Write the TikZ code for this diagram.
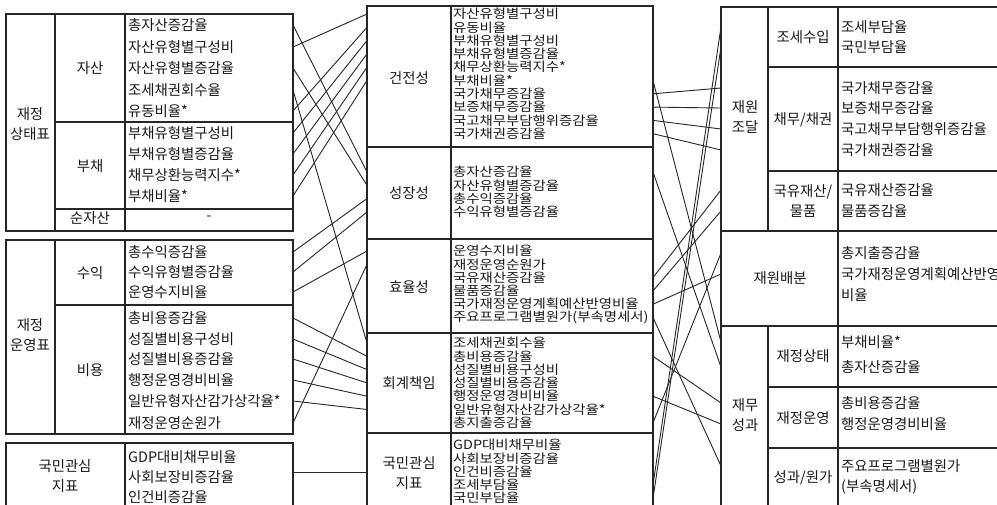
\documentclass[tikz,border=0pt]{standalone}
\usepackage{graphicx}
\usepackage{fontspec}
\newfontfamily\kr{Noto Sans CJK KR}
\newcommand{\sqz}[1]{\scalebox{1}[0.88]{#1}}
\begin{document}
\begin{tikzpicture}[x=1pt,y=-1pt,
  tbl/.style={draw=black!85, line width=1.1pt},
  txt/.style={font=\kr\fontsize{14.4}{14.4}\selectfont, anchor=west, inner sep=0pt, text=black!90},
  lbl/.style={font=\kr\fontsize{14.4}{20}\selectfont, inner sep=0pt, text=black!90, align=center},
  link/.style={draw=black!85, line width=0.9pt}]
\useasboundingbox (0,0) rectangle (997,504);
\clip (0,0) rectangle (997,504);
\fill[white] (0,0) rectangle (997,504);
% ---------------- left table 1
\draw[tbl] (6,14) rectangle (293,231);
\draw[tbl] (55,14) -- (55,231) (125,14) -- (125,231);
\draw[tbl] (55,122) -- (293,122) (55,209) -- (293,209);
% left table 2
\draw[tbl] (6,240) rectangle (293,434);
\draw[tbl] (55,240) -- (55,434) (125,240) -- (125,434);
\draw[tbl] (55,305) -- (293,305);
% left table 3
\draw[tbl] (6,520) -- (6,443) -- (293,443) -- (293,520);
\draw[tbl] (125,443) -- (125,520);
% ---------------- middle table
\draw[tbl] (367,520) -- (367,6) -- (653,6) -- (653,520);
\draw[tbl] (451,6) -- (451,520);
\draw[tbl] (367,147) -- (653,147) (367,239) -- (653,239) (367,333) -- (653,333) (367,433) -- (653,433);
% ---------------- right table
\draw[tbl] (721,520) -- (721,7) -- (1010,7);
\draw[tbl] (768,7) -- (768,231) (768,326) -- (768,520) (838,7) -- (838,520);
\draw[tbl] (721,231) -- (1010,231) (721,326) -- (1010,326);
\draw[tbl] (768,67) -- (1010,67) (768,171) -- (1010,171) (768,387) -- (1010,387) (768,448) -- (1010,448);

% ---------------- left texts
\node[lbl] (sL) at (30,124) {재정\\상태표};
\node[lbl] (sA) at (90,68) {자산};
\node[lbl] (sB) at (90,166) {부채};
\node[lbl] (sC) at (90,218) {순자산};
\node[txt] (t1) at (128,25) {총자산증감율};
\node[txt] (t2) at (128,47) {자산유형별구성비};
\node[txt] (t3) at (128,68) {자산유형별증감율};
\node[txt] (t4) at (128,90) {조세채권회수율};
\node[txt] (t5) at (128,111) {유동비율*};
\node[txt] (t6) at (128,133) {부채유형별구성비};
\node[txt] (t7) at (128,154) {부채유형별증감율};
\node[txt] (t8) at (128,175) {채무상환능력지수*};
\node[txt] (t9) at (128,196) {부채비율*};
\node[lbl] (t0) at (209,218) {-};

\node[lbl] (oL) at (30,335) {재정\\운영표};
\node[lbl] (oA) at (90,273) {수익};
\node[lbl] (oB) at (90,370) {비용};
\node[txt] (u1) at (128,252) {총수익증감율};
\node[txt] (u2) at (128,272) {수익유형별증감율};
\node[txt] (u3) at (128,292) {운영수지비율};
\node[txt] (u4) at (128,318) {총비용증감율};
\node[txt] (u5) at (128,339) {성질별비용구성비};
\node[txt] (u6) at (128,359) {성질별비용증감율};
\node[txt] (u7) at (128,380) {행정운영경비비율};
\node[txt] (u8) at (128,401) {일반유형자산감가상각율*};
\node[txt] (u9) at (128,423) {재정운영순원가};

\node[lbl] (kL) at (65,476) {국민관심\\지표};
\node[txt] (k1) at (128,457) {GDP대비채무비율};
\node[txt] (k2) at (128,477) {사회보장비증감율};
\node[txt] (k3) at (128,497) {인건비증감율};

% ---------------- middle texts
\node[lbl] (mH) at (409,78) {건전성};
\node[lbl] (mG) at (409,193) {성장성};
\node[lbl] (mE) at (409,287) {효율성};
\node[lbl] (mA) at (409,383) {회계책임};
\node[lbl] (mP) at (409,473) {국민관심\\지표};

\node[txt] (h1) at (453,14) {\sqz{자산유형별구성비}};
\node[txt] (h2) at (453,27.3) {\sqz{유동비율}};
\node[txt] (h3) at (453,40.6) {\sqz{부채유형별구성비}};
\node[txt] (h4) at (453,53.9) {\sqz{부채유형별증감율}};
\node[txt] (h5) at (453,67.2) {\sqz{채무상환능력지수*}};
\node[txt] (h6) at (453,80.5) {\sqz{부채비율*}};
\node[txt] (h7) at (453,93.8) {\sqz{국가채무증감율}};
\node[txt] (h8) at (453,107.1) {\sqz{보증채무증감율}};
\node[txt] (h9) at (453,120.4) {\sqz{국고채무부담행위증감율}};
\node[txt] (h10) at (453,133.7) {\sqz{국가채권증감율}};

\node[txt] (g1) at (453,172) {\sqz{총자산증감율}};
\node[txt] (g2) at (453,185.3) {\sqz{자산유형별증감율}};
\node[txt] (g3) at (453,198.6) {\sqz{총수익증감율}};
\node[txt] (g4) at (453,212) {\sqz{수익유형별증감율}};

\node[txt] (e1) at (453,251) {\sqz{운영수지비율}};
\node[txt] (e2) at (453,264.3) {\sqz{재정운영순원가}};
\node[txt] (e3) at (453,277.6) {\sqz{국유재산증감율}};
\node[txt] (e4) at (453,290.9) {\sqz{물품증감율}};
\node[txt] (e5) at (453,304.2) {\sqz{국가재정운영계획예산반영비율}};
\node[txt] (e6) at (453,317.5) {\sqz{주요프로그램별원가(부속명세서)}};

\node[txt] (a1) at (453,343) {\sqz{조세채권회수율}};
\node[txt] (a2) at (453,356.3) {\sqz{총비용증감율}};
\node[txt] (a3) at (453,369.6) {\sqz{성질별비용구성비}};
\node[txt] (a4) at (453,382.9) {\sqz{성질별비용증감율}};
\node[txt] (a5) at (453,396.2) {\sqz{행정운영경비비율}};
\node[txt] (a6) at (453,409.5) {\sqz{일반유형자산감가상각율*}};
\node[txt] (a7) at (453,422.8) {\sqz{총지출증감율}};

\node[txt] (p1) at (453,445) {\sqz{GDP대비채무비율}};
\node[txt] (p2) at (453,458.3) {\sqz{사회보장비증감율}};
\node[txt] (p3) at (453,471.6) {\sqz{인건비증감율}};
\node[txt] (p4) at (453,484.9) {\sqz{조세부담율}};
\node[txt] (p5) at (453,498.2) {\sqz{국민부담율}};

% ---------------- right texts
\node[lbl] (rJ) at (745,117) {재원\\조달};
\node[lbl] (rJ1) at (803,37) {조세수입};
\node[lbl] (rJ2) at (803,120) {채무/채권};
\node[lbl] (rJ3) at (803,201) {국유재산/\\물품};
\node[lbl] (rB) at (780,278) {재원배분};
\node[lbl] (rS) at (745,415) {재무\\성과};
\node[lbl] (rS1) at (803,356) {재정상태};
\node[lbl] (rS2) at (803,418) {재정운영};
\node[lbl] (rS3) at (803,478) {성과/원가};

\node[txt] (n1) at (841,27) {조세부담율};
\node[txt] (n2) at (841,47) {국민부담율};
\node[txt] (n3) at (841,88) {국가채무증감율};
\node[txt] (n4) at (841,108) {보증채무증감율};
\node[txt] (n5) at (841,129) {국고채무부담행위증감율};
\node[txt] (n6) at (841,150) {국가채권증감율};
\node[txt] (n7) at (841,190) {국유재산증감율};
\node[txt] (n8) at (841,211) {물품증감율};
\node[txt] (n9) at (841,253) {총지출증감율};
\node[txt] (n10) at (841,274) {국가재정운영계획예산반영};
\node[txt] (n10b) at (841,295) {비율};
\node[txt] (n11) at (841,342) {부채비율*};
\node[txt] (n12) at (841,367) {총자산증감율};
\node[txt] (n13) at (841,403) {총비용증감율};
\node[txt] (n14) at (841,424) {행정운영경비비율};
\node[txt] (n15) at (841,466) {주요프로그램별원가};
\node[txt] (n15b) at (841,487) {(부속명세서)};

% ---------------- edges
\coordinate (eL) at (293,0);
\coordinate (eM) at (367,0);
\coordinate (eN) at (653,0);
\coordinate (eR) at (721,0);
\coordinate (kA) at (293,472);
\coordinate (kB) at (367,472);

% left links
\draw[link] (t1 -| eL) -- (g1 -| eM);
\draw[link] (t2 -| eL) -- (h1 -| eM);
\draw[link] (t3 -| eL) -- (g2 -| eM);
\draw[link] (t4 -| eL) -- (a1 -| eM);
\draw[link] (t5 -| eL) -- (h2 -| eM);
\draw[link] (t6 -| eL) -- (h3 -| eM);
\draw[link] (t7 -| eL) -- (h4 -| eM);
\draw[link] (t8 -| eL) -- (h5 -| eM);
\draw[link] (t9 -| eL) -- (h6 -| eM);
\draw[link] (u1 -| eL) -- (g3 -| eM);
\draw[link] (u2 -| eL) -- (g4 -| eM);
\draw[link] (u3 -| eL) -- (e1 -| eM);
\draw[link] (u4 -| eL) -- (a2 -| eM);
\draw[link] (u5 -| eL) -- (a3 -| eM);
\draw[link] (u6 -| eL) -- (a4 -| eM);
\draw[link] (u7 -| eL) -- (a5 -| eM);
\draw[link] (u8 -| eL) -- (a6 -| eM);
\draw[link] (u9 -| eL) -- (e2 -| eM);
\draw[link] (kA) -- (kB);

% right links
\draw[link] (p4 -| eN) -- (n1 -| eR);
\draw[link] (p5 -| eN) -- (n2 -| eR);
\draw[link] (h7 -| eN) -- (n3 -| eR);
\draw[link] (h8 -| eN) -- (n4 -| eR);
\draw[link] (h9 -| eN) -- (n5 -| eR);
\draw[link] (h10 -| eN) -- (n6 -| eR);
\draw[link] (e3 -| eN) -- (n7 -| eR);
\draw[link] (e4 -| eN) -- (n8 -| eR);
\draw[link] (a7 -| eN) -- (n9 -| eR);
\draw[link] (e5 -| eN) -- (n10 -| eR);
\draw[link] (h6 -| eN) -- (n11 -| eR);
\draw[link] (g1 -| eN) -- (n12 -| eR);
\draw[link] (a2 -| eN) -- (n13 -| eR);
\draw[link] (a5 -| eN) -- (n14 -| eR);
\draw[link] (e6 -| eN) -- (n15 -| eR);
\end{tikzpicture}
\end{document}
